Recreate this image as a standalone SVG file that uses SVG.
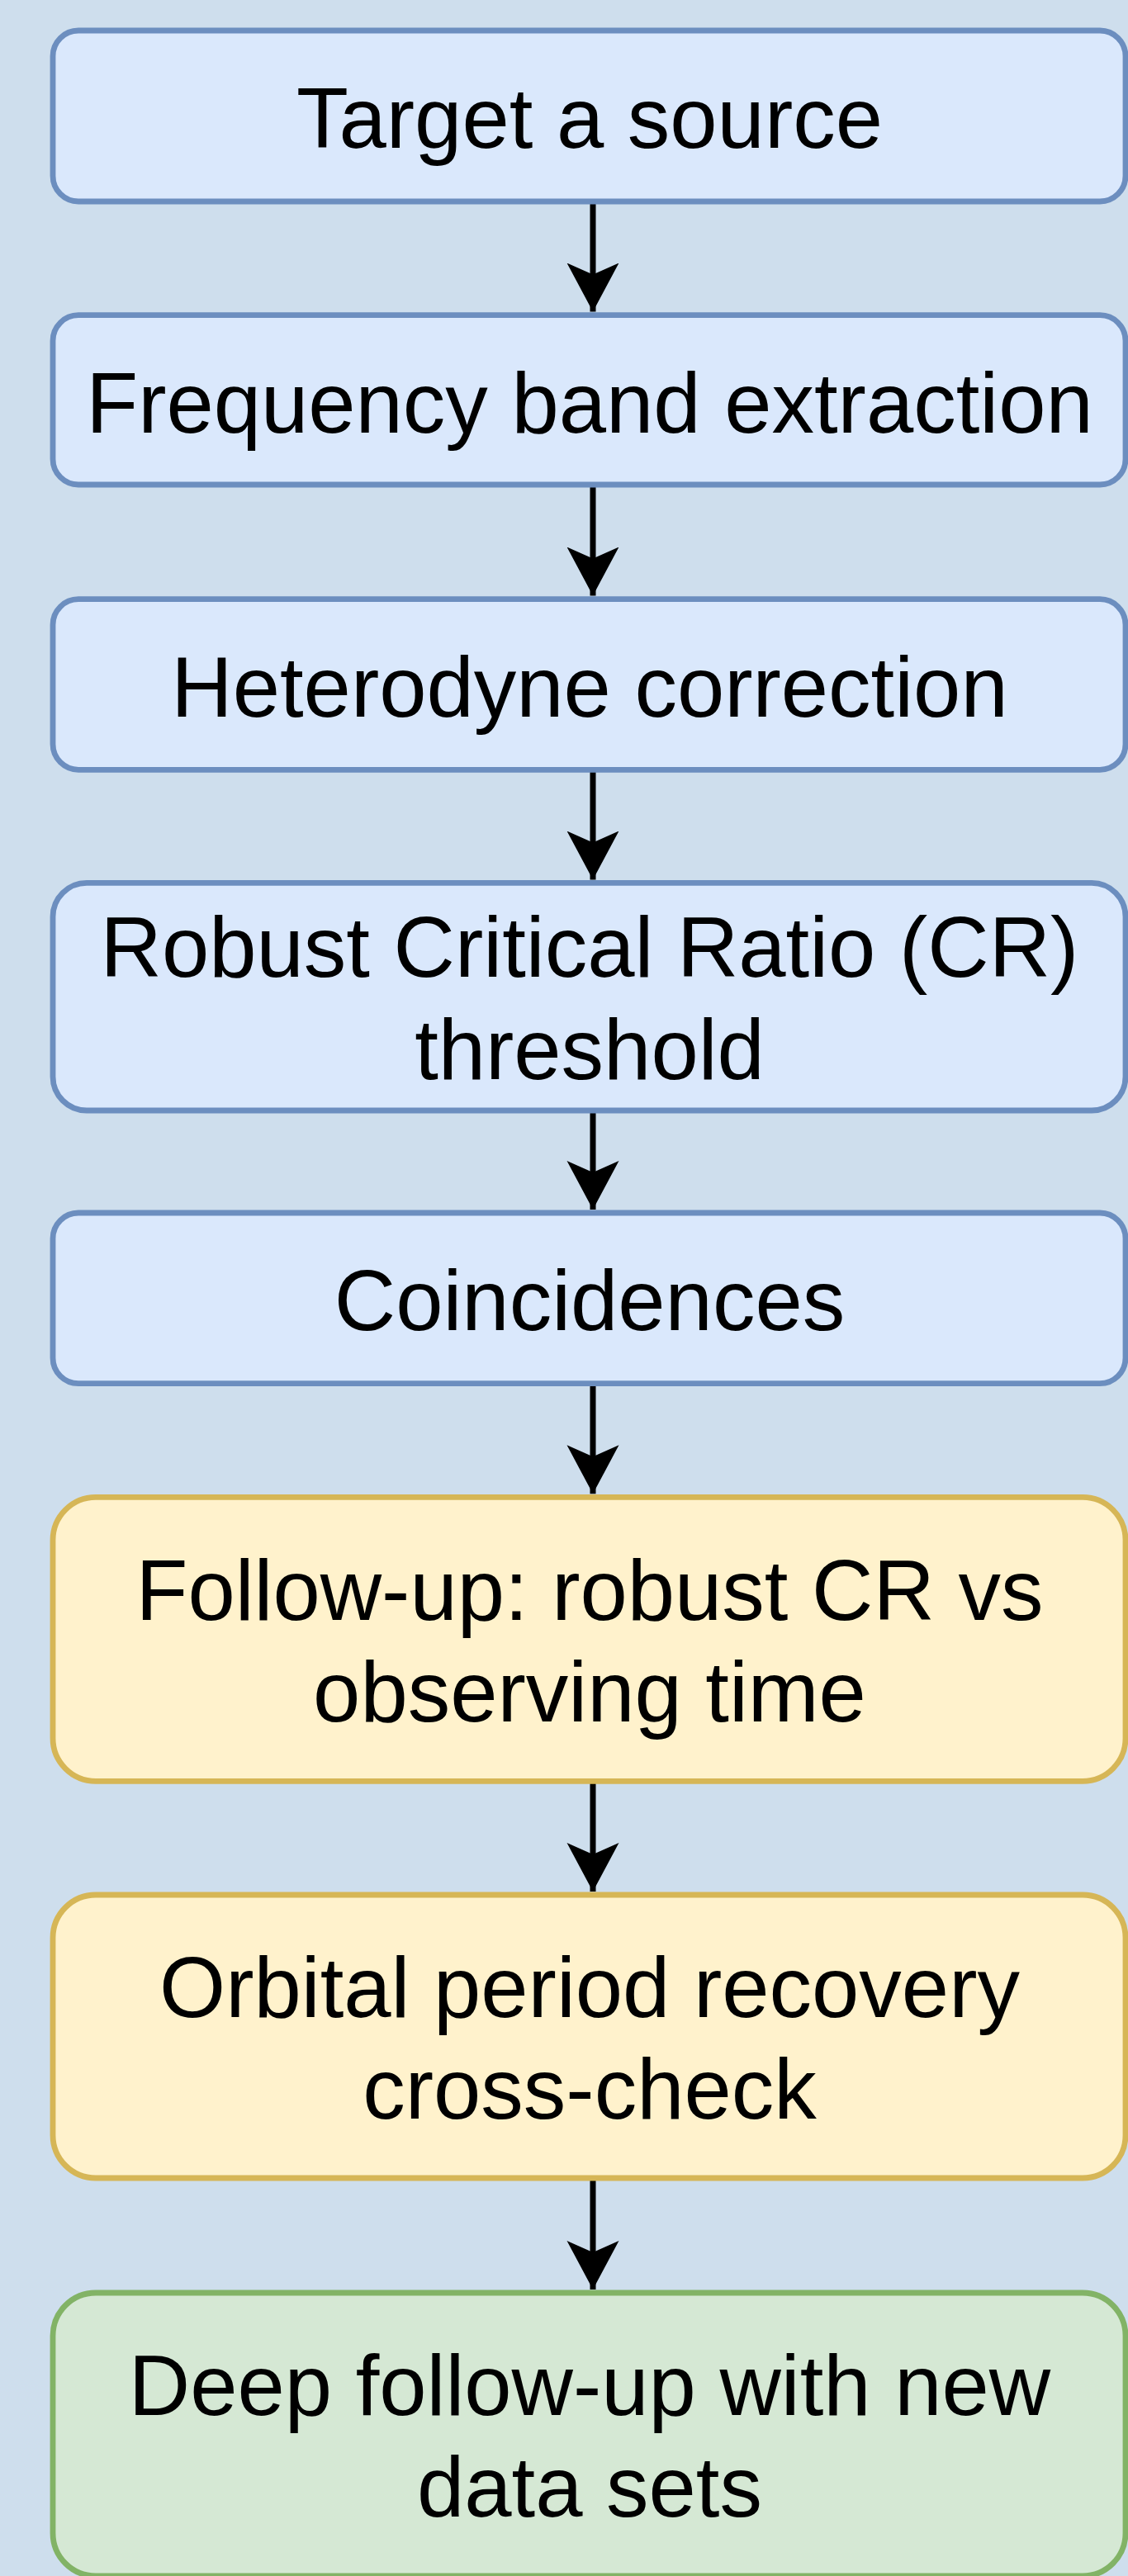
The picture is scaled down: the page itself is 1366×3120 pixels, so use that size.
<svg xmlns="http://www.w3.org/2000/svg" width="1366" height="3120" viewBox="0 0 1366 3120">
  <style>
    .blue { fill: #dae8fc; stroke: #6c8ebf; stroke-width: 6.8; }
    .yellow { fill: #fff2cc; stroke: #d6b656; stroke-width: 6.8; }
    .green { fill: #d5e8d4; stroke: #82b366; stroke-width: 6.8; }
    .lbl { font-family: "Liberation Sans", Arial, sans-serif; font-size: 103px; fill: #000000; text-anchor: middle; }
    .edge { stroke: #000000; stroke-width: 7; fill: none; marker-end: url(#arrow); }
  </style>
  <defs>
    <marker id="arrow" markerUnits="userSpaceOnUse" markerWidth="64" markerHeight="64" viewBox="0 0 64 64" refX="59" refY="32" orient="auto">
      <path d="M0,0.5 L59,32 L0,63.5 L14,32 Z" fill="#000000"/>
    </marker>
  </defs>
  <rect x="0" y="0" width="1366" height="3120" fill="#cedeed"/>

  <g id="connectors">
    <line class="edge" x1="718" y1="244" x2="718" y2="377.5"/>
    <line class="edge" x1="718" y1="587" x2="718" y2="721.5"/>
    <line class="edge" x1="718" y1="932.3" x2="718" y2="1065.5"/>
    <line class="edge" x1="718" y1="1345" x2="718" y2="1465"/>
    <line class="edge" x1="718" y1="1675.7" x2="718" y2="1809.3"/>
    <line class="edge" x1="718" y1="2157.3" x2="718" y2="2291"/>
    <line class="edge" x1="718" y1="2638" x2="718" y2="2773"/>
  </g>

  <g id="node1">
    <rect class="blue" x="64" y="37" width="1299" height="207" rx="31" ry="31"/>
    <text class="lbl" x="714" y="178.5">Target a source</text>
  </g>
  <g id="node2">
    <rect class="blue" x="64" y="381.7" width="1299" height="205.3" rx="31" ry="31"/>
    <text class="lbl" x="714" y="524">Frequency band extraction</text>
  </g>
  <g id="node3">
    <rect class="blue" x="64" y="725.7" width="1299" height="206.6" rx="31" ry="31"/>
    <text class="lbl" x="714" y="867.5">Heterodyne correction</text>
  </g>
  <g id="node4">
    <rect class="blue" x="64" y="1069.3" width="1299" height="275.7" rx="41" ry="41"/>
    <text class="lbl" x="714" y="1183.3">Robust Critical Ratio (CR)</text>
    <text class="lbl" x="714" y="1306.7">threshold</text>
  </g>
  <g id="node5">
    <rect class="blue" x="64" y="1469" width="1299" height="206.7" rx="31" ry="31"/>
    <text class="lbl" x="714" y="1611">Coincidences</text>
  </g>
  <g id="node6">
    <rect class="yellow" x="64" y="1813.3" width="1299" height="344" rx="52" ry="52"/>
    <text class="lbl" x="714" y="1961.5">Follow-up: robust CR vs</text>
    <text class="lbl" x="714" y="2085">observing time</text>
  </g>
  <g id="node7">
    <rect class="yellow" x="64" y="2295" width="1299" height="343" rx="52" ry="52"/>
    <text class="lbl" x="714" y="2442.5">Orbital period recovery</text>
    <text class="lbl" x="714" y="2566">cross-check</text>
  </g>
  <g id="node8">
    <rect class="green" x="64" y="2777" width="1299" height="343" rx="52" ry="52"/>
    <text class="lbl" x="714" y="2924.5">Deep follow-up with new</text>
    <text class="lbl" x="714" y="3048">data sets</text>
  </g>
</svg>
